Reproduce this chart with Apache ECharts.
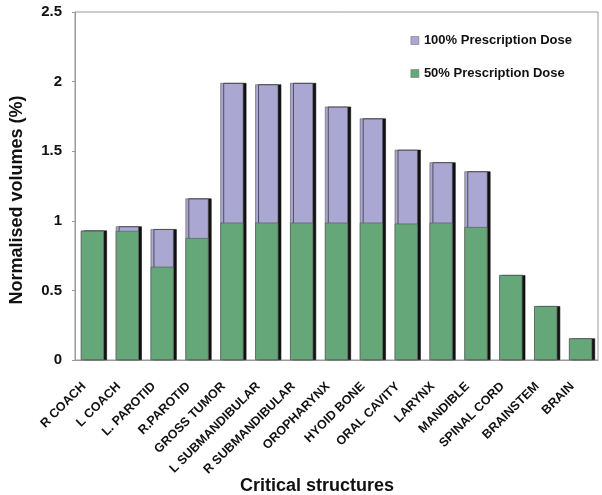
<!DOCTYPE html>
<html>
<head>
<meta charset="utf-8">
<script src="https://cdn.jsdelivr.net/npm/echarts@6/dist/echarts.min.js"></script>
<style>
  html, body { margin: 0; padding: 0; background: #fff; }
  #chart { width: 602px; height: 495px; }
</style>
</head>
<body>
<div id="chart"></div>
<script>
const structures = [
  'R COACH', 'L COACH', 'L. PAROTID', 'R.PAROTID', 'GROSS TUMOR',
  'L SUBMANDIBULAR', 'R SUBMANDIBULAR', 'OROPHARYNX', 'HYOID BONE', 'ORAL CAVITY',
  'LARYNX', 'MANDIBLE', 'SPINAL CORD', 'BRAINSTEM', 'BRAIN'
]
const dose100 = [0.93, 0.96, 0.94, 1.16, 1.99, 1.98, 1.99, 1.82, 1.735, 1.51, 1.42, 1.355, 0.61, 0.387, 0.155]
const dose50 = [0.927, 0.927, 0.67, 0.876, 0.987, 0.987, 0.987, 0.987, 0.987, 0.98, 0.987, 0.955, 0.61, 0.387, 0.155]
const yTicks = [0, 0.5, 1, 1.5, 2, 2.5]

const font = '"Liberation Sans", Arial, sans-serif'
const chart = echarts.init(document.getElementById('chart'))

const barStyle = (color) => ({
  color: color,
  borderColor: '#555',
  borderWidth: 0.6,
  shadowColor: '#111',
  shadowBlur: 0,
  shadowOffsetX: 3,
  shadowOffsetY: 0
})

chart.setOption({
  animation: false,
  textStyle: { fontFamily: font },
  grid: { left: 75, right: 4, top: 12, bottom: 135, show: true, borderColor: '#999', borderWidth: 1 },
  graphic: [
    {
      type: 'text',
      left: 240,
      top: 477,
      style: { text: 'Critical structures', fontSize: 18, fontWeight: 'bold', fill: '#111', fontFamily: font }
    },
    {
      type: 'text',
      x: 17,
      y: 200,
      rotation: Math.PI / 2,
      style: {
        text: 'Normalised volumes (%)', fontSize: 18, fontWeight: 'bold', fill: '#111', fontFamily: font,
        align: 'center', verticalAlign: 'middle'
      }
    }
  ],
  legend: {
    orient: 'vertical',
    right: 25,
    top: 29,
    itemWidth: 8,
    itemHeight: 8,
    itemGap: 20,
    icon: 'rect',
    textStyle: { fontSize: 13, fontWeight: 'bold', color: '#111', fontFamily: font },
    data: [
      { name: '100% Prescription Dose', itemStyle: { color: '#aaa7d3', borderColor: '#777', borderWidth: 0.6, shadowOffsetX: 0 } },
      { name: '50% Prescription Dose', itemStyle: { color: '#66a77a', borderColor: '#777', borderWidth: 0.6, shadowOffsetX: 0 } }
    ]
  },
  xAxis: {
    type: 'category',
    data: structures,
    axisLine: { lineStyle: { color: '#999' } },
    axisTick: { show: false },
    axisLabel: {
      rotate: 45, fontSize: 12.5, fontWeight: 'bold', color: '#111', margin: 16,
      padding: [0, 12, 0, 0], interval: 0, fontFamily: font
    }
  },
  yAxis: {
    type: 'value',
    min: yTicks[0],
    max: yTicks[yTicks.length - 1],
    interval: 0.5,
    axisLine: { show: true, lineStyle: { color: '#999' } },
    axisTick: { show: true, length: 3, lineStyle: { color: '#999' } },
    splitLine: { show: false },
    axisLabel: { fontSize: 15, fontWeight: 'bold', color: '#111', margin: 13, fontFamily: font }
  },
  series: [
    {
      name: '100% Prescription Dose',
      type: 'bar',
      data: dose100,
      barWidth: '66%',
      barGap: '-100%',
      itemStyle: barStyle('#aaa7d3')
    },
    {
      name: '50% Prescription Dose',
      type: 'bar',
      data: dose50,
      barWidth: '66%',
      itemStyle: Object.assign(barStyle('#66a77a'), { shadowOffsetX: 0 })
    }
  ]
})
</script>
</body>
</html>
